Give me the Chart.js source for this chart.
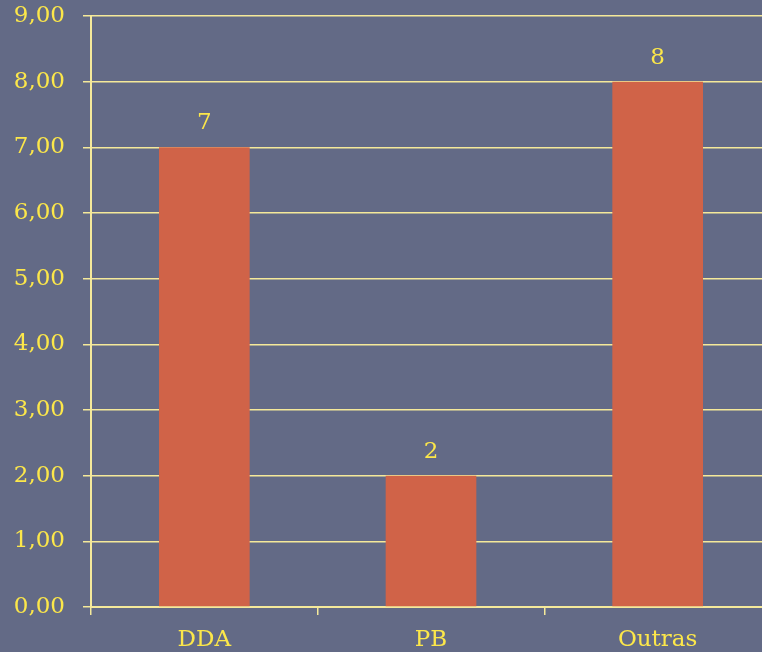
<!DOCTYPE html>
<html>
<head>
<meta charset="utf-8">
<script src="https://cdn.jsdelivr.net/npm/chart.js@4/dist/chart.umd.min.js"></script>
<style>
  html, body { margin: 0; padding: 0; background: #636a86; overflow: hidden; }
  #wrap { width: 762px; height: 652px; overflow: hidden; }
  canvas { display: block; }
</style>
</head>
<body>
<div id="wrap"><canvas id="chart" width="771" height="652"></canvas></div>
<script>
const categories = ['DDA', 'PB', 'Outras']
const values     = [7, 2, 8]
const yTicks     = [0, 1, 2, 3, 4, 5, 6, 7, 8, 9]

const yellow   = '#fce74a'
const gridCol  = '#f5e99a'
const barCol   = '#d06348'
const fontFam  = '"DejaVu Serif", "Liberation Serif", serif'

// value labels above each bar
const barLabels = {
  id: 'barLabels',
  afterDatasetsDraw(chart) {
    const ctx = chart.ctx
    const meta = chart.getDatasetMeta(0)
    ctx.save()
    ctx.fillStyle = yellow
    ctx.font = '23px ' + fontFam
    ctx.textAlign = 'center'
    ctx.textBaseline = 'middle'
    meta.data.forEach((bar, i) => {
      ctx.fillText(String(values[i]), bar.x, bar.y - 24)
    })
    ctx.restore()
  }
}

new Chart(document.getElementById('chart').getContext('2d'), {
  type: 'bar',
  data: {
    labels: categories,
    datasets: [{
      data: values,
      backgroundColor: barCol,
      borderWidth: 0,
      categoryPercentage: 0.4,
      barPercentage: 1
    }]
  },
  options: {
    responsive: false,
    animation: false,
    layout: { padding: { top: 16, right: 0, left: 0, bottom: 0 } },
    plugins: {
      legend: { display: false },
      tooltip: { enabled: false }
    },
    scales: {
      x: {
        z: 1,
        afterFit: s => { s.height = 45; s.paddingLeft = 0; s.paddingRight = 0 },
        grid: {
          offset: true,
          drawOnChartArea: false,
          drawTicks: true,
          tickLength: 8,
          color: gridCol,
          lineWidth: 1.5
        },
        border: { display: true, color: gridCol, width: 2 },
        ticks: {
          color: yellow,
          padding: 11,
          font: { family: fontFam, size: 23 }
        }
      },
      y: {
        min: 0,
        max: 9,
        afterFit: s => { s.width = 91; s.paddingTop = 0; s.paddingBottom = 0 },
        afterBuildTicks: s => { s.ticks = yTicks.map(v => ({ value: v })) },
        grid: {
          color: gridCol,
          lineWidth: 1.5,
          tickLength: 8
        },
        border: { display: true, color: gridCol, width: 2 },
        ticks: {
          color: yellow,
          padding: 18,
          font: { family: fontFam, size: 23 },
          callback: v => v.toFixed(2).replace('.', ',')
        }
      }
    }
  },
  plugins: [barLabels]
})
</script>
</body>
</html>
